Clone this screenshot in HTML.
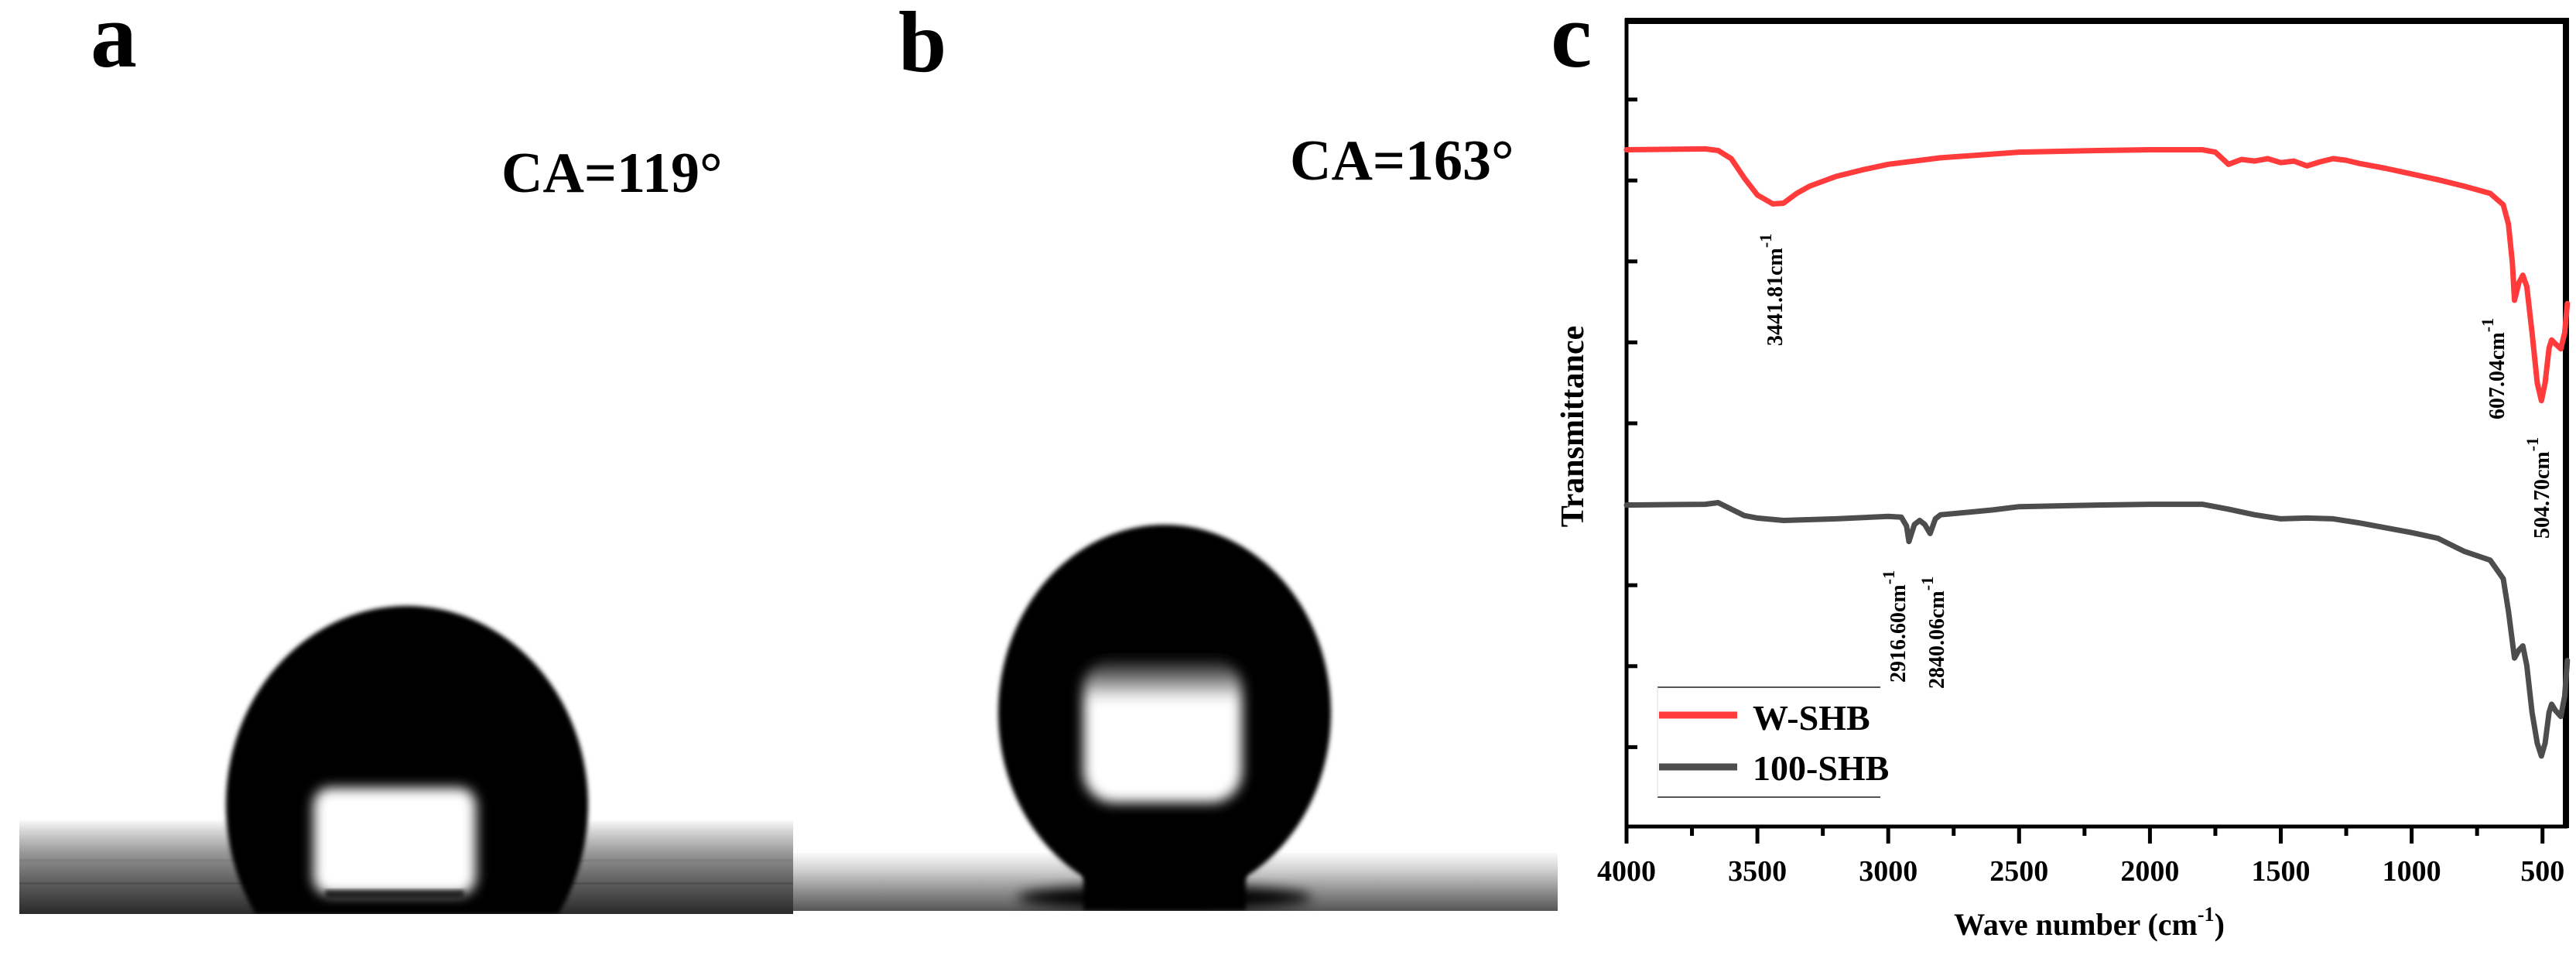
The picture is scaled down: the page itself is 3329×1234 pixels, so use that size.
<!DOCTYPE html>
<html><head><meta charset="utf-8"><style>
html,body{margin:0;padding:0;background:#fff;width:3329px;height:1234px;overflow:hidden;}
svg{display:block;}
text{font-family:"Liberation Serif",serif;font-weight:bold;fill:#000;}
</style></head><body>
<svg id="fig" width="3329" height="1234" viewBox="0 0 3329 1234" xmlns="http://www.w3.org/2000/svg">
<defs>
<filter id="blur3" x="-20%" y="-20%" width="140%" height="140%"><feGaussianBlur stdDeviation="3"/></filter>
<filter id="blur8" x="-30%" y="-30%" width="160%" height="160%"><feGaussianBlur stdDeviation="8"/></filter>
<filter id="blur20" x="-50%" y="-50%" width="200%" height="200%"><feGaussianBlur stdDeviation="20"/></filter>
<linearGradient id="groundA" x1="0" y1="0" x2="0" y2="1">
<stop offset="0" stop-color="#fff"/><stop offset="0.12" stop-color="#d8d8d8"/><stop offset="0.35" stop-color="#9a9a9a"/><stop offset="0.6" stop-color="#6a6a6a"/><stop offset="0.8" stop-color="#4a4a4a"/><stop offset="1" stop-color="#2a2a2a"/>
</linearGradient>
<linearGradient id="groundB" x1="0" y1="0" x2="0" y2="1">
<stop offset="0" stop-color="#fafafa"/><stop offset="0.3" stop-color="#d0d0d0"/><stop offset="0.7" stop-color="#888"/><stop offset="1" stop-color="#555"/>
</linearGradient>
<linearGradient id="hlB" x1="0" y1="0" x2="0" y2="1">
<stop offset="0" stop-color="#000"/><stop offset="0.18" stop-color="#999"/><stop offset="0.3" stop-color="#fff"/><stop offset="1" stop-color="#fff"/>
</linearGradient>
<clipPath id="clipA"><rect x="25" y="0" width="1000" height="1181"/></clipPath>
<clipPath id="clipB"><rect x="1025" y="0" width="988" height="1177"/></clipPath>
</defs>

<g clip-path="url(#clipA)">
<rect x="25" y="1058" width="1000" height="123" fill="url(#groundA)"/>
<rect x="25" y="1110" width="1000" height="4" fill="#777" opacity="0.5"/>
<rect x="25" y="1140" width="1000" height="3" fill="#444" opacity="0.5"/>
<path d="M330.4,1181 A234,257 0 1 1 721.6,1181 Z" fill="#000" filter="url(#blur3)"/>
<rect x="405" y="1018" width="210" height="138" rx="22" fill="#fff" filter="url(#blur8)"/>
<rect x="420" y="1150" width="180" height="12" fill="#222" filter="url(#blur3)"/>
</g>

<g clip-path="url(#clipB)">
<rect x="1025" y="1102" width="988" height="75" fill="url(#groundB)"/>
<ellipse cx="1505" cy="1160" rx="190" ry="16" fill="#000" filter="url(#blur8)"/>
<rect x="1400" y="1110" width="210" height="66" fill="#000" filter="url(#blur3)"/>
<ellipse cx="1505" cy="921" rx="215" ry="243" fill="#000" filter="url(#blur3)"/>
<rect x="1400" y="850" width="205" height="187" rx="40" fill="url(#hlB)" filter="url(#blur8)"/>
</g>

<text x="117" y="86" font-size="120">a</text>
<text x="1161" y="92" font-size="112">b</text>
<text x="2004" y="86" font-size="120">c</text>
<text x="648" y="248" font-size="74">CA=119°</text>
<text x="1667" y="232" font-size="74">CA=163°</text>

<g id="chart">
<rect x="2102" y="26" width="1214" height="1042" fill="none" stroke="#000" stroke-width="5"/>
<line x1="2100" y1="27" x2="3320" y2="27" stroke="#000" stroke-width="8"/>
<line x1="3316" y1="24" x2="3316" y2="1070" stroke="#000" stroke-width="8"/>
<g id="xticks"></g>
<g id="yticks"></g>
<g id="series"></g>
<text transform="translate(2046,551) rotate(-90)" text-anchor="middle" font-size="42">Transmittance</text>
<text x="2700" y="1208" text-anchor="middle" font-size="40">Wave number (cm<tspan font-size="26" dy="-18">-1</tspan><tspan dy="18">)</tspan></text>

<g>
<text transform="translate(2303,447) rotate(-90)" font-size="28">3441.81cm<tspan font-size="22" dy="-14">-1</tspan></text>
<text transform="translate(2462,882) rotate(-90)" font-size="28">2916.60cm<tspan font-size="22" dy="-14">-1</tspan></text>
<text transform="translate(2512,890) rotate(-90)" font-size="28">2840.06cm<tspan font-size="22" dy="-14">-1</tspan></text>
<text transform="translate(3236,542) rotate(-90)" font-size="28">607.04cm<tspan font-size="22" dy="-14">-1</tspan></text>
<text transform="translate(3294,696) rotate(-90)" font-size="28">504.70cm<tspan font-size="22" dy="-14">-1</tspan></text>
</g>

<g>
<line x1="2142" y1="888" x2="2430" y2="888" stroke="#555" stroke-width="2"/>
<line x1="2142" y1="1030" x2="2430" y2="1030" stroke="#555" stroke-width="2"/>
<line x1="2142" y1="888" x2="2142" y2="1030" stroke="#ddd" stroke-width="1"/>
<line x1="2144" y1="924" x2="2245" y2="924" stroke="#ff3b3b" stroke-width="9"/>
<text x="2265" y="943" font-size="46">W-SHB</text>
<line x1="2144" y1="991" x2="2245" y2="991" stroke="#4d4d4d" stroke-width="9"/>
<text x="2265" y="1008" font-size="46">100-SHB</text>
</g>
</g>
</svg>
<script>
const wavenumbers = [4000,3700,3650,3600,3550,3500,3441,3400,3350,3300,3200,3100,3000,2800,2500,2200,2000,1800,1750,1700,1650,1600,1550,1500,1450,1400,1350,1300,1250,1200,1100,1000,900,800,700,650,630,615,607,590,575,560,540,520,504,490,475,465,450,430,415,405];
const wShbValues = [83.8,83.9,83.7,82.7,80.3,78.2,77.1,77.2,78.4,79.3,80.5,81.3,82.0,82.8,83.5,83.7,83.8,83.8,83.5,82.0,82.6,82.4,82.7,82.2,82.4,81.8,82.3,82.7,82.5,82.1,81.5,80.8,80.1,79.3,78.4,77.0,74.6,69.8,65.2,67.4,68.3,66.9,61.2,55.0,52.8,55.0,59.3,60.3,59.8,59.2,61.2,64.8];
const wavenumbers2 = [4000,3700,3650,3600,3550,3500,3400,3200,3000,2950,2930,2921,2900,2880,2860,2840,2820,2800,2600,2500,2200,2000,1800,1700,1600,1500,1400,1300,1200,1000,900,800,700,650,630,607,590,575,560,540,520,504,490,475,465,450,430,415,405];
const shb100Values = [39.9,40.0,40.2,39.4,38.6,38.3,38.0,38.2,38.5,38.4,37.3,35.4,37.5,38.0,37.5,36.4,38.2,38.7,39.3,39.7,39.9,40.0,40.0,39.4,38.7,38.2,38.3,38.2,37.7,36.5,35.8,34.2,33.1,30.8,26.8,21.0,22.0,22.5,20.1,14.3,10.5,8.9,10.5,14.3,15.3,14.5,13.8,16.3,20.7];
const xTickValues = [4000,3500,3000,2500,2000,1500,1000,500];
const xTickLabels = ["4000","3500","3000","2500","2000","1500","1000","500"];
const xMinorValues = [3750,3250,2750,2250,1750,1250,750];
const yTickValues = [10,20,30,40,50,60,70,80,90];

const NS = "http://www.w3.org/2000/svg";
const X0 = 2102, PXPER500 = 169.1, YB = 1070, YT = 24;
function xScale(w){ return X0 + (4000 - w) / 500 * PXPER500; }
function yScale(v){ return YB - v / 100 * (YB - YT); }

const xt = document.getElementById('xticks');
xTickValues.forEach((w,i)=>{
  const l = document.createElementNS(NS,'line');
  l.setAttribute('x1',xScale(w)); l.setAttribute('x2',xScale(w));
  l.setAttribute('y1',1068); l.setAttribute('y2',1090);
  l.setAttribute('stroke','#000'); l.setAttribute('stroke-width','5');
  
  
  xt.appendChild(l);
  const t = document.createElementNS(NS,'text');
  t.setAttribute('x',xScale(w)); t.setAttribute('y',1138);
  t.setAttribute('text-anchor','middle'); t.setAttribute('font-size','38');
  t.textContent = xTickLabels[i];
  
  
  xt.appendChild(t);
});
xMinorValues.forEach(w=>{
  const l = document.createElementNS(NS,'line');
  l.setAttribute('x1',xScale(w)); l.setAttribute('x2',xScale(w));
  l.setAttribute('y1',1068); l.setAttribute('y2',1080);
  l.setAttribute('stroke','#000'); l.setAttribute('stroke-width','5');
  
  
  xt.appendChild(l);
});
const yt = document.getElementById('yticks');
yTickValues.forEach(v=>{
  const l = document.createElementNS(NS,'line');
  l.setAttribute('x1',2102); l.setAttribute('x2',2116);
  l.setAttribute('y1',yScale(v)); l.setAttribute('y2',yScale(v));
  l.setAttribute('stroke','#000'); l.setAttribute('stroke-width','5');
  
  
  yt.appendChild(l);
});
function drawSeries(xs, ys, color, name){
  let d = '';
  xs.forEach((w,i)=>{ d += (i?'L':'M') + xScale(w).toFixed(1) + ',' + yScale(ys[i]).toFixed(1); });
  const p = document.createElementNS(NS,'path');
  p.setAttribute('d', d);
  p.setAttribute('fill','none'); p.setAttribute('stroke',color);
  p.setAttribute('stroke-width','7'); p.setAttribute('stroke-linejoin','round'); p.setAttribute('stroke-linecap','round');
  
  
  document.getElementById('series').appendChild(p);
}
drawSeries(wavenumbers, wShbValues, '#ff3b3b', 'series-w-shb');
drawSeries(wavenumbers2, shb100Values, '#4d4d4d', 'series-100-shb');
</script>
</body></html>
